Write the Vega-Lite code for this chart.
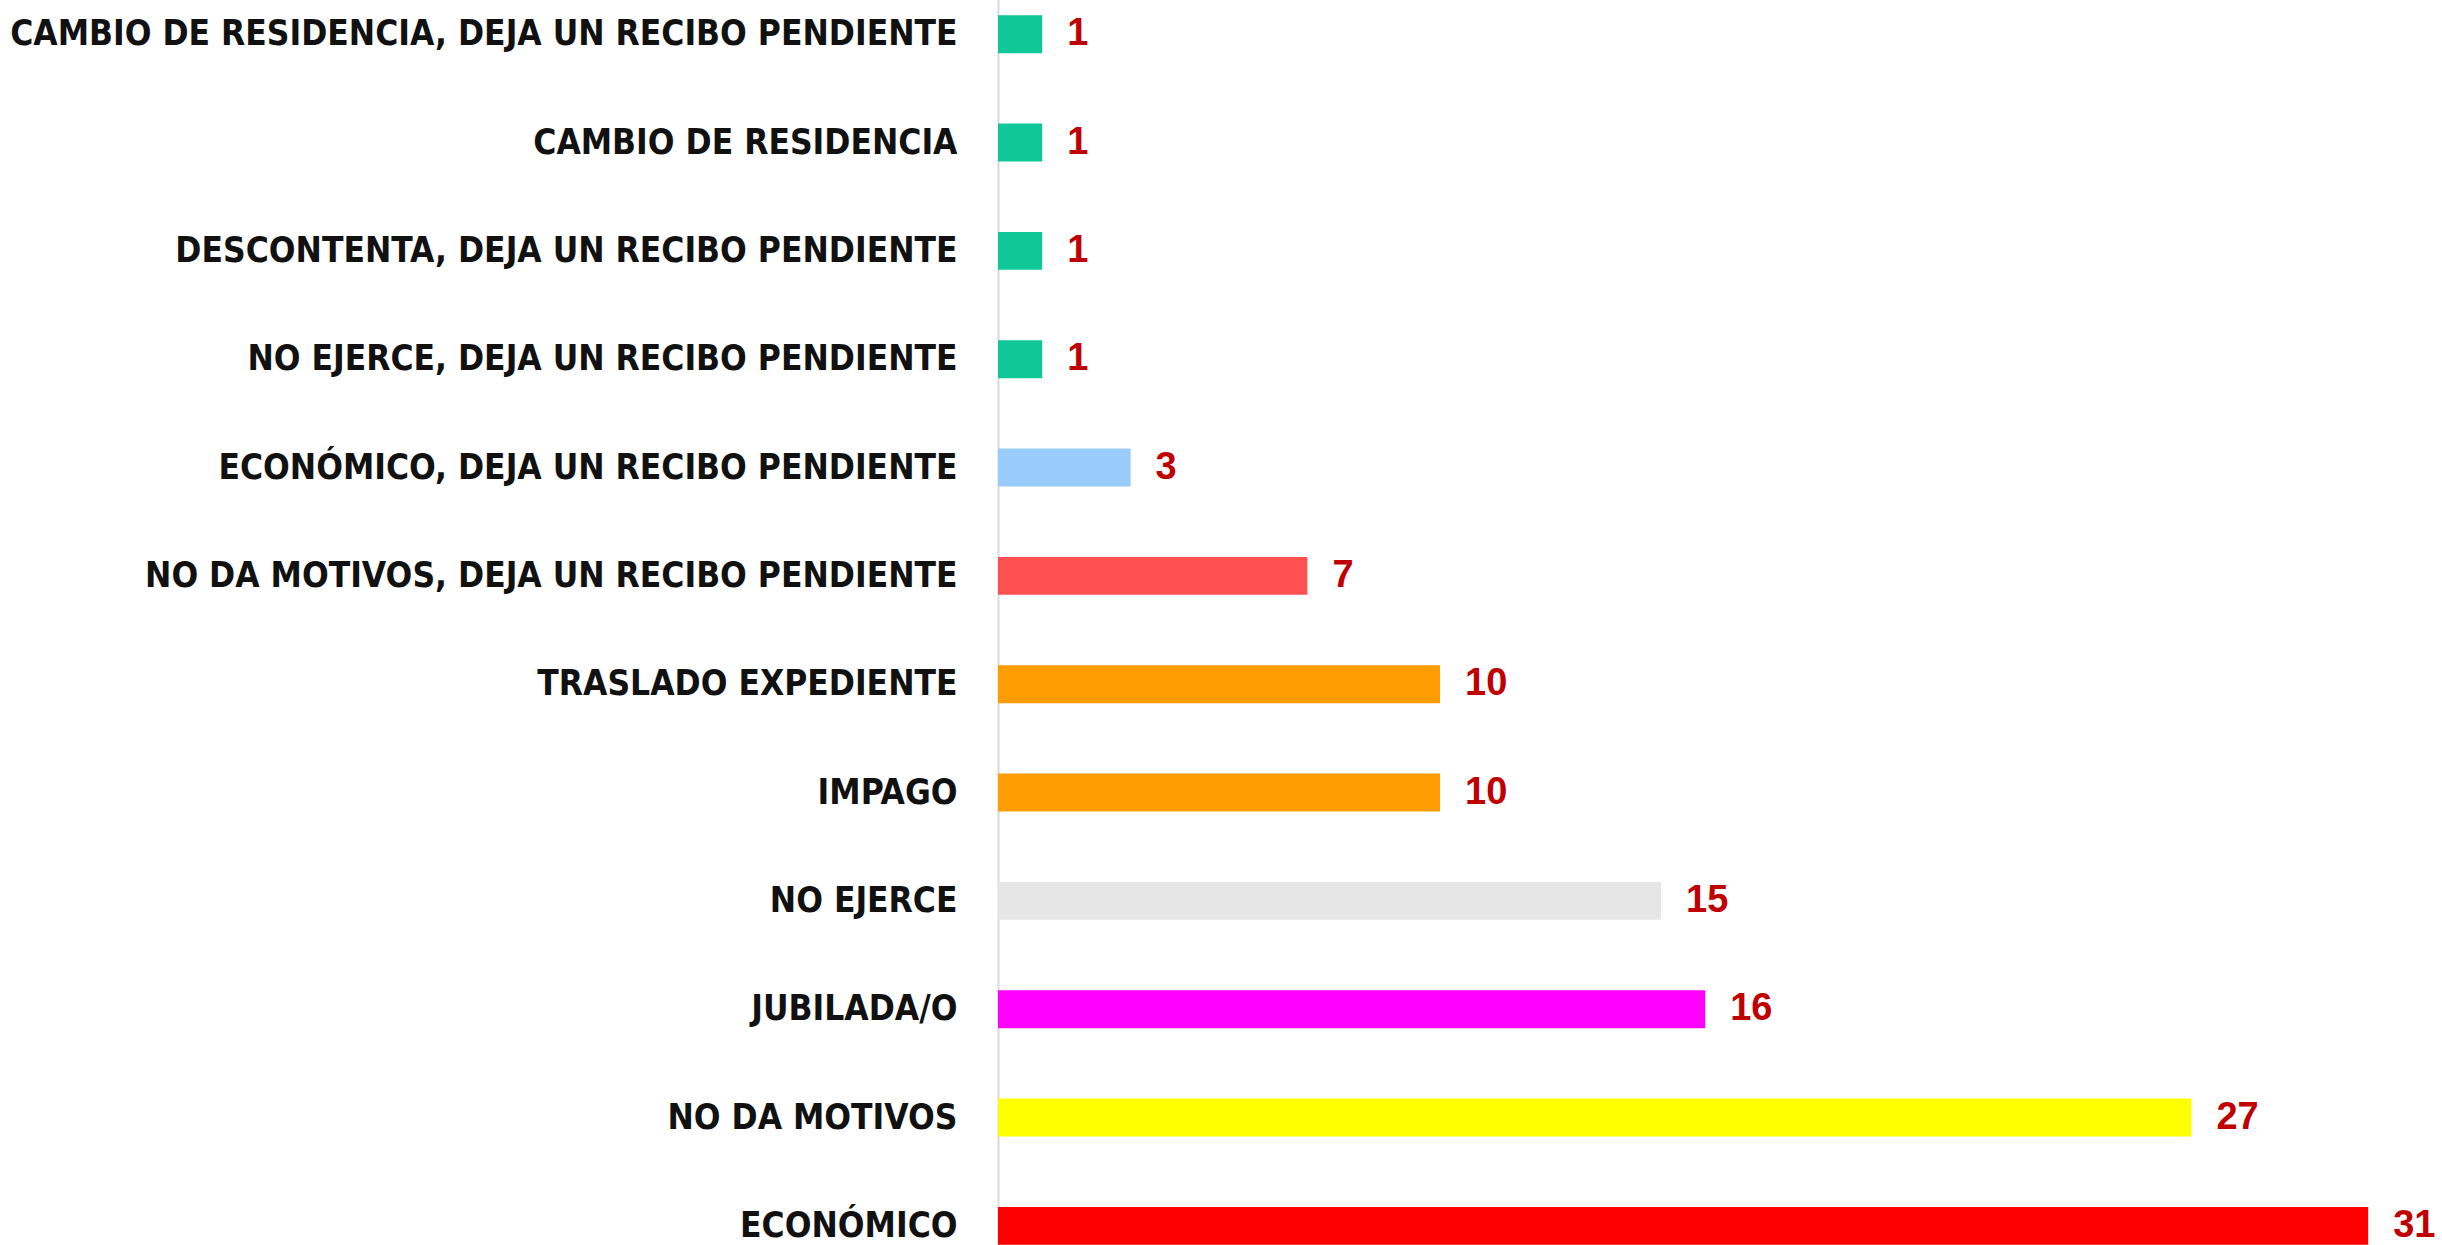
{
  "$schema": "https://vega.github.io/schema/vega-lite/v6.json",
  "width": 1444,
  "height": 1245,
  "autosize": {"type": "none"},
  "padding": {"left": 998, "top": 0, "right": 0, "bottom": 0},
  "background": "white",
  "config": {"view": {"stroke": null}},
  "data": {"values": [
    {"motivo": "CAMBIO DE RESIDENCIA, DEJA UN RECIBO PENDIENTE", "n": 1, "grupo": "g1"},
    {"motivo": "CAMBIO DE RESIDENCIA", "n": 1, "grupo": "g1"},
    {"motivo": "DESCONTENTA, DEJA UN RECIBO PENDIENTE", "n": 1, "grupo": "g1"},
    {"motivo": "NO EJERCE, DEJA UN RECIBO PENDIENTE", "n": 1, "grupo": "g1"},
    {"motivo": "ECONÓMICO, DEJA UN RECIBO PENDIENTE", "n": 3, "grupo": "g3"},
    {"motivo": "NO DA MOTIVOS, DEJA UN RECIBO PENDIENTE", "n": 7, "grupo": "g7"},
    {"motivo": "TRASLADO EXPEDIENTE", "n": 10, "grupo": "g10"},
    {"motivo": "IMPAGO", "n": 10, "grupo": "g10"},
    {"motivo": "NO EJERCE", "n": 15, "grupo": "g15"},
    {"motivo": "JUBILADA/O", "n": 16, "grupo": "g16"},
    {"motivo": "NO DA MOTIVOS", "n": 27, "grupo": "g27"},
    {"motivo": "ECONÓMICO", "n": 31, "grupo": "g31"}
  ]},
  "encoding": {
    "y": {
      "field": "motivo", "type": "nominal", "sort": null,
      "scale": {"range": [-20, 1280], "paddingInner": 0.65, "paddingOuter": 0.325},
      "axis": {
        "title": null, "ticks": false, "domain": true, "domainColor": "#d9d9d9", "domainWidth": 2,
        "labelFont": "DejaVu Sans Condensed", "labelFontWeight": "bold", "labelFontSize": 35,
        "labelColor": "#111111", "labelPadding": 41, "labelLimit": 1000, "grid": false
      }
    },
    "x": {
      "field": "n", "type": "quantitative",
      "scale": {"domain": [0, 32.67], "nice": false},
      "axis": null
    }
  },
  "layer": [
    {
      "mark": {"type": "bar"},
      "encoding": {
        "color": {
          "field": "grupo", "type": "nominal", "legend": null,
          "scale": {
            "domain": ["g1", "g3", "g7", "g10", "g15", "g16", "g27", "g31"],
            "range": ["#0fc797", "#99ccfa", "#ff5050", "#ff9c00", "#e6e6e6", "#ff00ff", "#ffff00", "#ff0000"]
          }
        }
      }
    },
    {
      "mark": {"type": "text", "align": "left", "baseline": "middle", "dx": 25, "font": "Liberation Sans", "fontWeight": "bold", "fontSize": 38, "color": "#c00000"},
      "encoding": {"text": {"field": "n", "type": "quantitative"}}
    }
  ]
}
